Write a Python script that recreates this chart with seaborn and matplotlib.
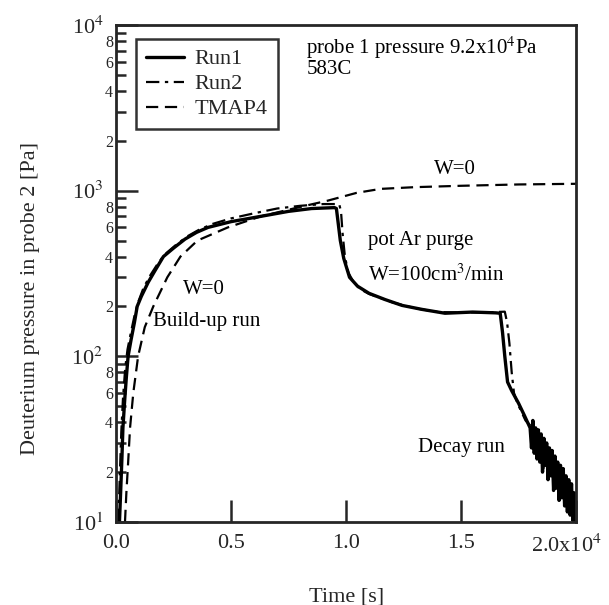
import matplotlib
matplotlib.use("Agg")
import matplotlib.pyplot as plt
import matplotlib.ticker as mticker
import matplotlib.transforms as mtransforms
import seaborn as sns
import numpy as np
import pandas as pd

# Run1 (solid) - measured
run1_t = [150, 200, 260, 300, 380, 450, 525, 650, 800, 920, 1100, 1400, 1700, 2060,
          2500, 3000, 3500, 4000, 5000, 6300, 7500, 8500, 9500, 9580, 9650, 9750,
          9900, 10150, 10500, 11000, 11700, 12430, 13300, 14300, 15500, 16500, 16700,
          16800, 16900, 17020, 17200, 17500, 17750,
          18000, 18060, 18120, 18180, 18240, 18300, 18360, 18420, 18480, 18540, 18600,
          18660, 18720, 18780, 18840, 18900, 18960, 19020, 19080, 19140, 19200, 19260,
          19320, 19380, 19440, 19500, 19560, 19620, 19680, 19740, 19800, 19860, 19920,
          19960, 20000]
run1_p = [10, 15, 25, 37, 55, 75, 100, 125, 160, 200, 230, 280, 330, 400,
          450, 510, 560, 600, 650, 700, 750, 780, 790, 780, 650, 500,
          390, 300, 265, 240, 220, 203, 192, 182, 185, 183, 182,
          140, 100, 70, 62, 52, 44,
          37, 28, 41, 26, 37, 24, 36, 23, 34, 20, 32,
          22, 30, 18, 28, 19, 27, 15.5, 25, 16, 23, 13.5,
          22, 14, 21, 12.5, 19, 11.5, 18, 11, 17, 10.2, 15,
          10.2, 12]

# Run2 (dash-dot) - measured
run2_t = [100, 170, 230, 300, 400, 500, 650, 800, 950, 1200, 1500, 1800, 2100, 2600,
          3100, 3600, 4200, 5000, 6000, 7000, 8000, 9000, 9700, 9780, 9850, 9950,
          10100, 10300, 10600, 11000, 12000, 13000, 14000, 15000, 16000, 16900, 17000,
          17100, 17200, 17300, 17450, 17600, 17800,
          18030, 18090, 18150, 18210, 18270, 18330, 18390, 18450, 18510, 18570, 18630,
          18690, 18750, 18810, 18870, 18930, 18990, 19050, 19110, 19170, 19230, 19290,
          19350, 19410, 19470, 19530, 19590, 19650, 19710, 19770, 19830, 19890, 19950,
          20000]
run2_p = [10, 20, 35, 55, 85, 110, 140, 175, 210, 260, 310, 360, 410, 470,
          530, 580, 630, 680, 730, 780, 810, 830, 830, 750, 550, 400,
          320, 285, 255, 238, 212, 195, 185, 184, 184, 186, 160,
          120, 80, 60, 52, 47, 41,
          38, 29, 37, 27, 34, 25, 33, 24, 30, 21, 29,
          23, 27, 19, 25, 20, 24, 16, 22, 17, 21, 14,
          20, 15, 19, 13, 17, 12, 16, 11.5, 15, 10.5, 13,
          11]

# TMAP4 (dashed) - model
tmap_t = [390, 450, 520, 610, 750, 960, 1250, 1620, 2230, 2800, 3540, 4860, 6300,
          8050, 9200, 10460, 11500, 13000, 15000, 17500, 20000]
tmap_p = [10, 15, 22, 37, 60, 100, 150, 200, 300, 400, 500, 600, 700,
          800, 870, 970, 1025, 1050, 1070, 1090, 1100]

x_ticks = [0, 5000, 10000, 15000, 20000]
x_ticklabels = ["0.0", "0.5", "1.0", "1.5", "2.0x10$^4$"]

sns.set_style("ticks")
plt.rcParams['font.family'] = ['Liberation Serif', 'DejaVu Serif']
plt.rcParams['mathtext.fontset'] = 'stix'

fig = plt.figure(figsize=(6.09, 6.05), dpi=100)
ax = fig.add_axes([0.1905, 0.1372, 0.7555, 0.8215])

df1 = pd.DataFrame({"t": run1_t, "p": run1_p})
df2 = pd.DataFrame({"t": run2_t, "p": run2_p})
df3 = pd.DataFrame({"t": tmap_t, "p": tmap_p})

sns.lineplot(data=df1, x="t", y="p", ax=ax, color="black", lw=2.4, label="Run1",
             estimator=None, sort=False)
sns.lineplot(data=df2, x="t", y="p", ax=ax, color="black", lw=1.6, label="Run2",
             estimator=None, sort=False)
ax.lines[-1].set_dashes((6, 2.5, 1.5, 2.5))
sns.lineplot(data=df3, x="t", y="p", ax=ax, color="black", lw=1.6, label="TMAP4",
             estimator=None, sort=False)
ax.lines[-1].set_dashes((5.5, 3))

ax.set_yscale("log")
ax.set_xlim(0, 20000)
ax.set_ylim(10, 10000)

ax.set_xticks(x_ticks)
ax.set_xticklabels(x_ticklabels)
ax.xaxis.set_minor_locator(mticker.NullLocator())

ax.yaxis.set_major_locator(mticker.LogLocator(base=10, numticks=10))
ax.yaxis.set_major_formatter(mticker.FuncFormatter(
    lambda v, pos: "10$^{%d}$" % int(round(np.log10(v)))))
ax.yaxis.set_minor_locator(mticker.LogLocator(base=10, subs=np.arange(2, 10), numticks=20))


def minor_fmt(v, pos):
    m = v / 10 ** np.floor(np.log10(v) + 1e-9)
    m = int(round(m))
    return str(m) if m in (2, 4, 6, 8) else ""


ax.yaxis.set_minor_formatter(mticker.FuncFormatter(minor_fmt))

ax.tick_params(axis="both", which="major", direction="in", length=16, width=1.8,
               labelsize=16, pad=9)
ax.tick_params(axis="y", which="minor", direction="in", length=7, width=1.8,
               labelsize=11.5, pad=2)
for s in ax.spines.values():
    s.set_linewidth(2.0)
    s.set_visible(True)

# last x label sits a little left of its tick, as in the original
lab = ax.get_xticklabels()[-1]
lab.set_transform(lab.get_transform() + mtransforms.ScaledTranslation(-10 / 100, 0, fig.dpi_scale_trans))

ax.set_xlabel("Time [s]", fontsize=16, labelpad=22)
ax.set_ylabel("Deuterium pressure in probe 2 [Pa]", fontsize=16)
ax.yaxis.set_label_coords(-0.165, 0.45)

leg = ax.legend(loc="upper left", bbox_to_anchor=(0.043, 0.972), fontsize=16,
                frameon=True, fancybox=False, handlelength=1.7, handletextpad=0.5,
                borderpad=0.45, labelspacing=0.2, borderaxespad=0)
leg.get_frame().set_edgecolor("black")
leg.get_frame().set_linewidth(1.8)

txt = dict(fontsize=15, color="black")
ax.text(0.414, 0.955, "probe 1 pressure 9.2x10$^4$Pa", transform=ax.transAxes,
        ha="left", va="center", **txt)
ax.text(0.414, 0.91, "583C", transform=ax.transAxes, ha="left", va="center", **txt)
ax.text(0.737, 0.71, "W=0", transform=ax.transAxes, ha="center", va="center", **txt)
ax.text(0.548, 0.566, "pot Ar purge", transform=ax.transAxes, ha="left",
        va="center", **txt)
ax.text(0.548, 0.497, "W=100cm$^3$/min", transform=ax.transAxes, ha="left",
        va="center", **txt)
ax.text(0.19, 0.467, "W=0", transform=ax.transAxes, ha="center", va="center", **txt)
ax.text(0.08, 0.403, "Build-up run", transform=ax.transAxes, ha="left",
        va="center", **txt)
ax.text(0.657, 0.149, "Decay run", transform=ax.transAxes, ha="left",
        va="center", **txt)

fig.savefig("out.png", dpi=100)
